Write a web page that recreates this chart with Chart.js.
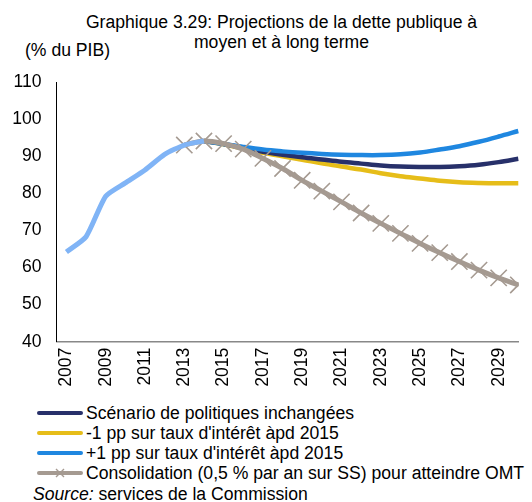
<!DOCTYPE html>
<html>
<head>
<meta charset="utf-8">
<script src="https://cdn.jsdelivr.net/npm/chart.js@4/dist/chart.umd.min.js"></script>
<style>
  body { margin: 0; background: #fff; font-family: "Liberation Sans", Arial, sans-serif; color: #000; }
  #wrap { position: relative; width: 532px; height: 502px; overflow: hidden; }
  #chart { position: absolute; left: 0; top: 0; }
  .title { position: absolute; left: 0; width: 563px; top: 11.5px; text-align: center; font-size: 17.6px; line-height: 20px; }
  .unit { position: absolute; left: 25px; top: 40px; font-size: 17.6px; line-height: 20px; }
  .legend { position: absolute; left: 35px; top: 402.5px; font-size: 17.6px; }
  .legend-row { height: 20px; line-height: 20px; display: flex; align-items: center; white-space: nowrap; }
  .legend-row svg { margin-right: 1px; }
  .source { position: absolute; left: 33px; top: 484px; font-size: 17.6px; line-height: 20px; }
</style>
</head>
<body>
<div id="wrap">
  <div class="title">Graphique 3.29: Projections de la dette publique à<br>moyen et à long terme</div>
  <div class="unit">(% du PIB)</div>
  <canvas id="chart" width="532" height="400"></canvas>
  <div class="legend" id="legend"></div>
  <div class="source"><i>Source:</i> services de la Commission</div>
</div>
<script>
const years = [2007, 2008, 2009, 2010, 2011, 2012, 2013, 2014, 2015, 2016, 2017, 2018,
  2019, 2020, 2021, 2022, 2023, 2024, 2025, 2026, 2027, 2028, 2029, 2030];
const xTickYears = [2007, 2009, 2011, 2013, 2015, 2017, 2019, 2021, 2023, 2025, 2027, 2029];
const yTicks = [40, 50, 60, 70, 80, 90, 100, 110];

// historique (pas dans la légende)
const historique = [64.2, 68.3, 79.2, 82.8, 86.3, 90.5, 93.0, 94.1,
  null, null, null, null, null, null, null, null, null, null, null, null, null, null, null, null];
const inchangees = [null, null, null, null, null, null, null, 94.1, 93.3, 92.3, 91.2, 90.4,
  89.7, 89.1, 88.5, 88.0, 87.5, 87.2, 87.1, 87.1, 87.3, 87.7, 88.4, 89.3];
const tauxMoins = [null, null, null, null, null, null, null, 94.1, 93.2, 92.0, 90.9, 90.0,
  89.0, 88.1, 87.2, 86.4, 85.4, 84.6, 84.0, 83.4, 83.0, 82.8, 82.7, 82.7];
const tauxPlus = [null, null, null, null, null, null, null, 94.1, 93.3, 92.5, 91.8, 91.3,
  90.9, 90.6, 90.4, 90.3, 90.3, 90.5, 91.0, 91.8, 92.7, 93.9, 95.3, 96.8];
const consolidation = [null, null, null, null, null, null, 93.0, 94.1, 93.4, 91.9, 89.4, 86.7,
  83.5, 80.6, 77.7, 74.7, 71.9, 69.2, 66.5, 64.0, 61.6, 59.3, 57.2, 55.3];

const seriesNames = [
  "Scénario de politiques inchangées",
  "-1 pp sur taux d'intérêt àpd 2015",
  "+1 pp sur taux d'intérêt àpd 2015",
  "Consolidation (0,5 % par an sur SS) pour atteindre OMT",
];
const colors = {
  hist: "#80B4F6",
  navy: "#27306A",
  yellow: "#E6BD19",
  blue: "#1F87E0",
  gray: "#A59A91",
};

const toPoints = (vals) =>
  years.map((yr, i) => ({ x: yr, y: vals[i] })).filter((p) => p.y !== null);

const FONT = { family: "'Liberation Sans', Arial, sans-serif", size: 17.6 };

const line = (label, vals, color, order, extra) => ({
  label,
  data: toPoints(vals),
  borderColor: color,
  backgroundColor: color,
  borderWidth: 4.5,
  pointRadius: 0,
  tension: 0.35,
  order,
  ...extra,
});

new Chart(document.getElementById("chart").getContext("2d"), {
  type: "line",
  data: {
    datasets: [
      line("Historique", historique, colors.hist, 0, { borderWidth: 5, tension: 0.2 }),
      line(seriesNames[3], consolidation, colors.gray, 1, {
        borderWidth: 5,
        pointRadius: 11.5,
        pointStyle: "crossRot",
        pointBorderWidth: 1.6,
        pointBorderColor: colors.gray,
      }),
      line(seriesNames[2], tauxPlus, colors.blue, 2),
      line(seriesNames[0], inchangees, colors.navy, 3),
      line(seriesNames[1], tauxMoins, colors.yellow, 4),
    ],
  },
  options: {
    responsive: false,
    animation: false,
    layout: { padding: { top: 82, right: 0, left: 0, bottom: 0 } },
    plugins: { legend: { display: false }, tooltip: { enabled: false } },
    scales: {
      x: {
        type: "linear",
        min: 2006.5,
        max: 2030.03,
        afterBuildTicks: (s) => { s.ticks = xTickYears.map((v) => ({ value: v })); },
        afterFit: (s) => { s.height = 58.3; },
        grid: { display: false, drawTicks: false },
        border: { color: "#888888", width: 1.5 },
        ticks: {
          autoSkip: false,
          minRotation: 90,
          maxRotation: 90,
          padding: 6,
          color: "#000",
          font: FONT,
          callback: (v) => String(v),
        },
      },
      y: {
        min: 40,
        max: 110,
        afterBuildTicks: (s) => { s.ticks = yTicks.map((v) => ({ value: v })); },
        afterFit: (s) => { s.width = 56.6; },
        grid: { display: false, drawTicks: false },
        border: { color: "#000", width: 1 },
        ticks: { padding: 15, color: "#000", font: FONT },
      },
    },
  },
});

// légende
const swatches = [
  [colors.navy, false],
  [colors.yellow, false],
  [colors.blue, false],
  [colors.gray, true],
];
document.getElementById("legend").innerHTML = seriesNames.map((name, i) => {
  const [c, cross] = swatches[i];
  const mark = cross
    ? `<path d="M21 2 L29 10 M29 2 L21 10" stroke="${c}" stroke-width="1.4"/>`
    : "";
  return `<div class="legend-row"><svg width="50" height="12">` +
    `<line x1="4" y1="6" x2="46" y2="6" stroke="${c}" stroke-width="4" stroke-linecap="round"/>` +
    mark + `</svg>${name}</div>`;
}).join("");
</script>
</body>
</html>
